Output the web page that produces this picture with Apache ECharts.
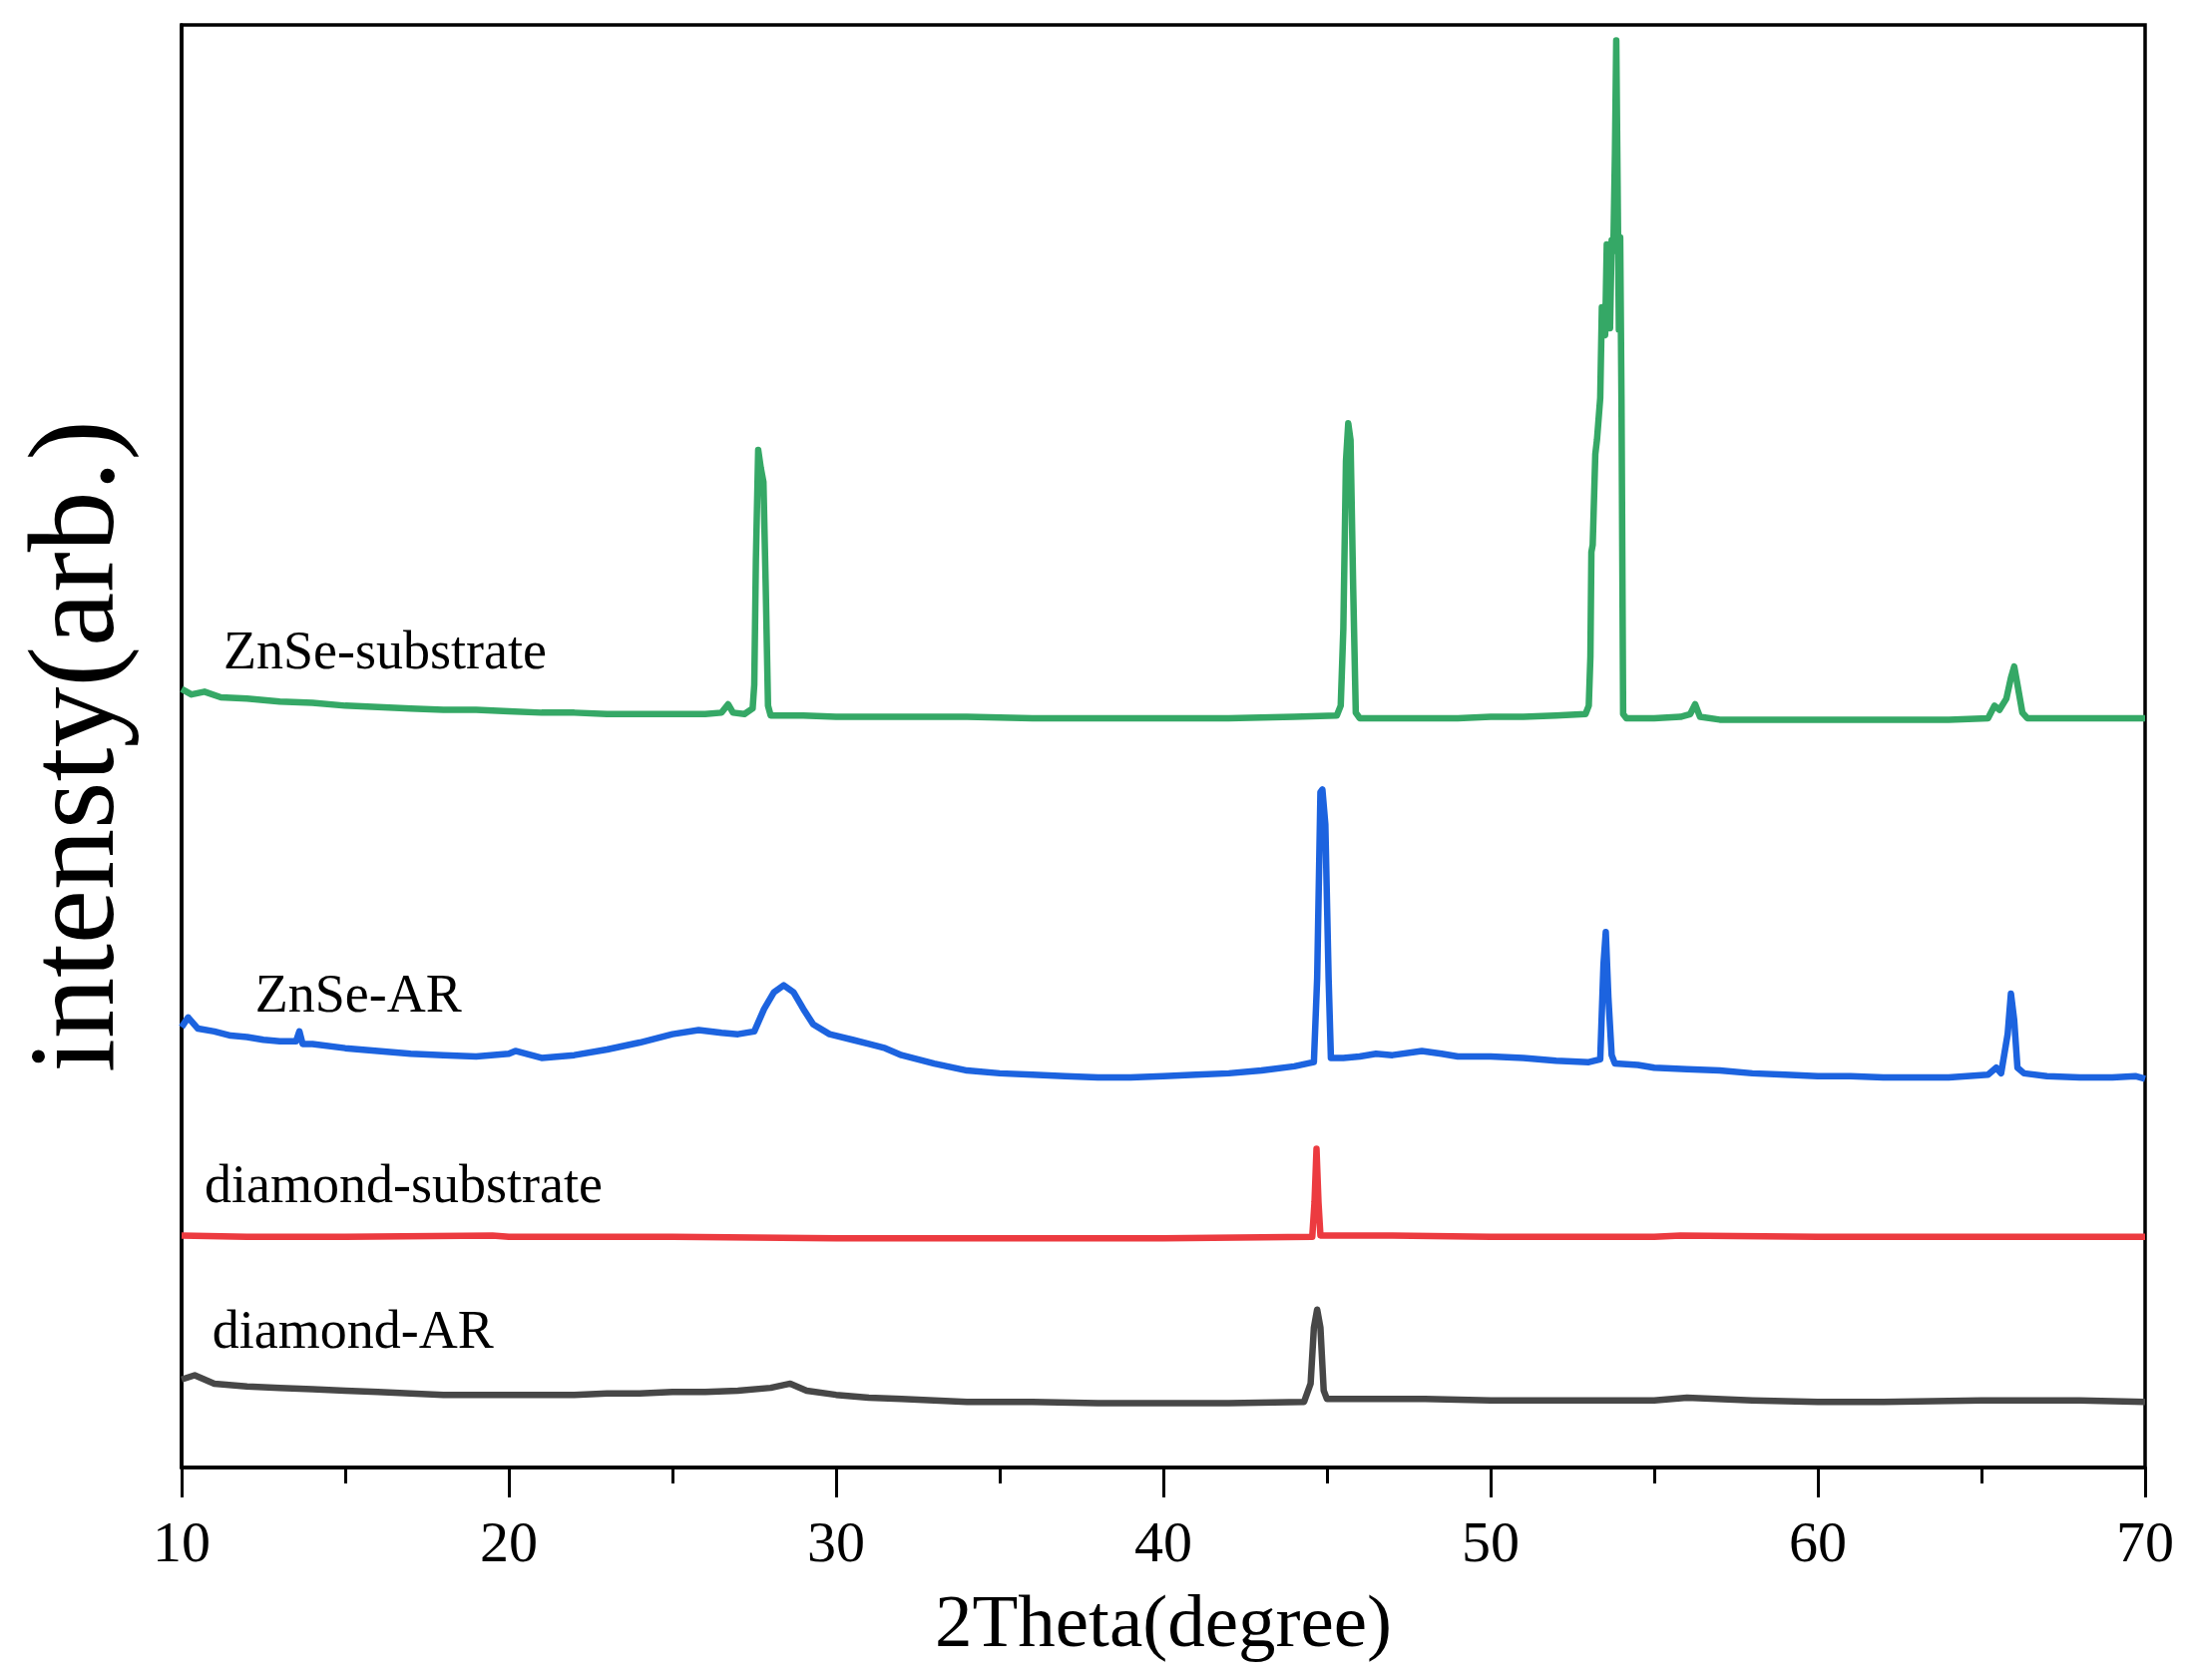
<!DOCTYPE html>
<html>
<head>
<meta charset="utf-8">
<script src="https://cdn.jsdelivr.net/npm/echarts@6/dist/echarts.min.js"></script>
<style>html,body{margin:0;padding:0;background:#fff;}#c{width:2197px;height:1684px;}</style>
</head>
<body>
<div id="c"></div>
<script>
// x: 2Theta (degree), y: offset intensity (arb.)
const xTicks = [10, 20, 30, 40, 50, 60, 70];
const seriesNames = ['ZnSe-substrate', 'ZnSe-AR', 'diamond-substrate', 'diamond-AR'];

const znseSubstrate = [
[10.0,557],[10.3,553],[10.7,555],[11.2,551],[12,550],[13,548],[14,547],[15,545],[16,544],[17,543],[18,542],[19,542],[20,541],[21,540],[22,540],[23,539],[24,539],[25,539],[26,539],[26.5,540],[26.7,546],[26.85,540],[27.2,539],[27.45,543],[27.5,560],[27.55,650],[27.62,728],[27.7,715],[27.78,705],[27.85,630],[27.92,545],[28,538],[29,538],[30,537],[32,537],[34,537],[36,536],[38,536],[40,536],[42,536],[44,537],[45.3,538],[45.42,545],[45.5,600],[45.58,720],[45.65,747],[45.72,735],[45.8,630],[45.88,540],[46,536],[47,536],[48,536],[49,536],[50,537],[51,537],[52,538],[52.9,539],[52.95,538],[53.0,545],[53.05,580],[53.08,655],[53.12,660],[53.2,725],[53.25,735],[53.35,765],[53.4,830],[53.45,815],[53.5,810],[53.55,875],[53.6,850],[53.65,815],[53.7,878],[53.75,870],[53.8,940],[53.84,1021],[53.88,920],[53.92,814],[53.96,880],[54.0,762],[54.05,539],[54.15,536],[55,536],[55.8,537],[56.1,539],[56.25,546],[56.4,537],[57,535],[58,535],[60,535],[62,535],[64,535],[65.2,536],[65.4,545],[65.55,542],[65.76,550],[65.9,565],[66.0,573],[66.1,560],[66.25,540],[66.4,536],[68,536],[70,536]
];

const znseAR = [
[10.0,315],[10.2,322],[10.5,314],[11,312],[11.5,309],[12,308],[12.5,306],[13,305],[13.5,305],[13.6,312],[13.7,303],[14,303],[15,300],[16,298],[17,296],[18,295],[19,294],[20,296],[20.2,298],[21,293],[22,295],[23,299],[24,304],[25,310],[25.8,313],[26.5,311],[27,310],[27.5,312],[27.8,328],[28.1,340],[28.4,345],[28.7,340],[29.0,328],[29.3,317],[29.8,310],[30.5,306],[31,303],[31.5,300],[32,295],[33,289],[34,284],[35,282],[36,281],[37,280],[38,279],[39,279],[40,280],[41,281],[42,282],[43,284],[44,287],[44.6,290],[44.7,350],[44.8,483],[44.86,485],[44.95,460],[45.05,350],[45.12,293],[45.5,293],[46,294],[46.5,296],[47,295],[47.9,298],[48.5,296],[49,294],[50,294],[51,293],[52,291],[53,290],[53.35,292],[53.45,360],[53.52,383],[53.6,336],[53.7,295],[53.8,289],[54.5,288],[55,286],[56,285],[57,284],[58,282],[59,281],[60,280],[61,280],[62,279],[63,279],[64,279],[65.2,281],[65.45,286],[65.6,282],[65.8,310],[65.9,339],[66.0,320],[66.1,286],[66.3,282],[67,280],[68,279],[69,279],[69.7,280],[70,278]
];

const diamondSubstrate = [
[10,166],[12,165],[15,165],[19.5,166],[20,165],[25,165],[30,164],[35,164],[40,164],[44.55,165],[44.62,190],[44.68,228],[44.74,190],[44.8,166],[47,166],[50,165],[55,165],[55.8,166],[60,165],[65,165],[70,165]
];

const diamondAR = [
[10,63],[10.4,66],[11,60],[12,58],[13,57],[14,56],[15,55],[16,54],[17,53],[18,52],[19,52],[20,52],[21,52],[22,52],[23,53],[24,53],[25,54],[26,54],[27,55],[28,57],[28.6,60],[29.1,55],[30,52],[31,50],[32,49],[33,48],[34,47],[36,47],[38,46],[40,46],[42,46],[44.3,47],[44.5,60],[44.6,100],[44.7,113],[44.8,100],[44.9,55],[45.0,49],[46,49],[48,49],[50,48],[52,48],[55,48],[56,50],[58,48],[60,47],[62,47],[65,48],[68,48],[70,47]
];

// label anchor points [x, y] in data units (left edge, vertical middle of text)
const labelAnchors = [[11.28, 582], [12.25, 336], [10.70, 200], [10.94, 96]];

const colors = ['#35a866', '#1c63df', '#ec3b40', '#474747'];
const datasets = [znseSubstrate, znseAR, diamondSubstrate, diamondAR];
const FONT = "'Liberation Serif','Times New Roman',serif";

const chart = echarts.init(document.getElementById('c'), null, {renderer: 'canvas'});
chart.setOption({
  animation: false,
  backgroundColor: '#fff',
  grid: {left: 182, right: 47, top: 25, bottom: 213, show: true, borderColor: '#000', borderWidth: 3.5, backgroundColor: 'transparent'},
  xAxis: {
    type: 'value', min: xTicks[0], max: xTicks[xTicks.length - 1], interval: 10,
    name: '2Theta(degree)', nameLocation: 'middle', nameGap: 122,
    nameTextStyle: {fontFamily: FONT, fontSize: 75, color: '#000'},
    axisLine: {show: true, lineStyle: {color: '#000', width: 3.5}},
    axisTick: {show: true, inside: false, length: 30, lineStyle: {color: '#000', width: 3}},
    minorTick: {show: true, splitNumber: 2, length: 16, lineStyle: {color: '#000', width: 3}},
    splitLine: {show: false},
    axisLabel: {fontFamily: FONT, fontSize: 58, color: '#000', margin: 50}
  },
  yAxis: {
    type: 'value', min: 0, max: 1032,
    name: 'intensty(arb.)', nameLocation: 'middle', nameGap: 40, nameRotate: 90,
    nameTextStyle: {fontFamily: FONT, fontSize: 122, color: '#000'},
    axisLine: {show: true, lineStyle: {color: '#000', width: 3.5}},
    axisTick: {show: false}, axisLabel: {show: false}, splitLine: {show: false}
  },
  series: datasets.map((d, i) => ({
    name: seriesNames[i], type: 'line', data: d, showSymbol: false, symbol: 'none',
    lineStyle: {color: colors[i], width: 6.5, join: 'round'}, itemStyle: {color: colors[i]},
    markPoint: {
      symbol: 'circle', symbolSize: 0, silent: true,
      data: [{coord: labelAnchors[i], value: seriesNames[i]}],
      label: {show: true, position: [0, 0], align: 'left', verticalAlign: 'middle',
              formatter: seriesNames[i], fontFamily: FONT, fontSize: 54, color: '#000'}
    }
  }))
});
</script>
</body>
</html>
